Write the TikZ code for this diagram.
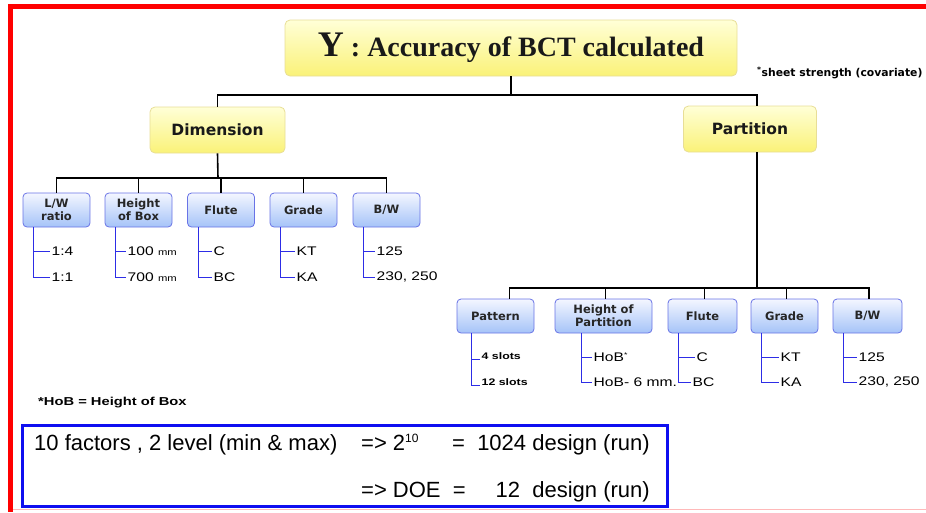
\documentclass[tikz,border=0pt]{standalone}
\usepackage{fontspec}
\setmainfont{Liberation Sans}
\newfontfamily\boxfont{DejaVu Sans}
\newfontfamily\titlefont{Liberation Serif}
\usetikzlibrary{positioning}
\usetikzlibrary{calc, shapes, backgrounds}
\definecolor{framered}{RGB}{255,0,0}
\definecolor{framepink}{RGB}{255,185,185}
\definecolor{ytop}{RGB}{255,255,215}
\definecolor{ybot}{RGB}{250,242,120}
\definecolor{ybord}{RGB}{232,222,150}
\definecolor{btop}{RGB}{244,246,255}
\definecolor{bbot}{RGB}{165,195,248}
\definecolor{bbord}{RGB}{105,115,230}
\definecolor{leafblue}{RGB}{45,45,230}
\definecolor{doeblue}{RGB}{15,15,240}

\begin{document}
\begin{tikzpicture}[x=1pt,y=-1pt]
\tikzstyle{yellow node}=[rectangle,rounded corners=5pt,draw=ybord,line width=0.8pt,top color=ytop,bottom color=ybot,align=center,text=black!90]
\tikzstyle{blue node}=[rectangle,rounded corners=4pt,draw=bbord,line width=0.8pt,top color=btop,bottom color=bbot,align=center,minimum height=34pt,inner sep=1pt,text=black!85,font=\boxfont\bfseries\fontsize{11.5}{13}\selectfont]
\tikzstyle{leaf}=[anchor=west,inner sep=1.5pt,font=\addfontfeature{FakeStretch=1.25}\fontsize{12.5}{13}\selectfont]
\tikzstyle{small leaf}=[anchor=base west,inner sep=1.5pt,font=\bfseries\addfontfeature{FakeStretch=1.3}\fontsize{9.5}{10}\selectfont]
\tikzset{
  tree line/.style = {draw=black,line width=1.6pt},
  leaf line/.style = {draw=leafblue,line width=0.9pt},
  doe text/.style = {anchor=base west,inner sep=0pt,font=\fontsize{22}{22}\selectfont}
}

\useasboundingbox (0,0) rectangle (926,512);

% frame
\fill[framered] (8,4) rectangle (926,9);
\fill[framered] (8,4) rectangle (13,512);
\draw[framepink,line width=1pt] (13,509) -- (926,509);

% top levels
\node[yellow node,minimum width=452pt,minimum height=56pt] (y) at (511,48)
  {\titlefont\bfseries{\fontsize{36}{36}\selectfont Y}{\fontsize{28}{28}\selectfont{} : Accuracy of BCT calculated}};
\node[anchor=west,inner sep=0pt,font=\boxfont\bfseries\fontsize{10.8}{10.8}\selectfont] (cov) at (757,73)
  {\textsuperscript{*}sheet strength (covariate)};
\node[yellow node,minimum width=135pt,minimum height=46pt,font=\boxfont\bfseries\fontsize{15.5}{16}\selectfont] (dim) at (217.5,130) {Dimension};
\node[yellow node,minimum width=133pt,minimum height=46pt,font=\boxfont\bfseries\fontsize{15.5}{16}\selectfont] (par) at (750,129) {Partition};

% dimension factors
\node[blue node,minimum width=67pt] (lw)  at (56.5,210)  {L/W\\ratio};
\node[blue node,minimum width=67pt] (hob) at (138.5,210) {Height\\of Box};
\node[blue node,minimum width=67pt] (fl1) at (221,210)   {Flute};
\node[blue node,minimum width=67pt] (gr1) at (303.5,210) {Grade};
\node[blue node,minimum width=67pt] (bw1) at (386.5,210) {B/W};

% partition factors
\node[blue node,minimum width=77pt] (pat) at (495.5,316) {Pattern};
\node[blue node,minimum width=97pt] (hop) at (603.5,316) {Height of\\Partition};
\node[blue node,minimum width=69pt] (fl2) at (702.5,316) {Flute};
\node[blue node,minimum width=67pt] (gr2) at (784.5,316) {Grade};
\node[blue node,minimum width=69pt] (bw2) at (867.5,316) {B/W};

% levels
\node[leaf] (lwa)  at (50,251)  {1:4};
\node[leaf] (lwb)  at (50,277)  {1:1};
\node[leaf] (hoba) at (126,251) {100 {\fontsize{9}{9}\selectfont mm}};
\node[leaf] (hobb) at (126,277) {700 {\fontsize{9}{9}\selectfont mm}};
\node[leaf] (fl1a) at (212,251) {C};
\node[leaf] (fl1b) at (212,277) {BC};
\node[leaf] (gr1a) at (295,251) {KT};
\node[leaf] (gr1b) at (295,277) {KA};
\node[leaf] (bw1a) at (375,251) {125};
\node[leaf] (bw1b) at (375,277) {230, 250};

\node[small leaf] (pata) at (480,359) {4 slots};
\node[small leaf] (patb) at (480,385) {12 slots};
\node[leaf] (hopa) at (592,357) {HoB\textsuperscript{\fontsize{7}{7}\selectfont *}};
\node[leaf] (hopb) at (592,382) {HoB- 6 mm.};
\node[leaf] (fl2a) at (695,357) {C};
\node[leaf] (fl2b) at (691,382) {BC};
\node[leaf] (gr2a) at (779,357) {KT};
\node[leaf] (gr2b) at (779,382) {KA};
\node[leaf] (bw2a) at (857,357) {125};
\node[leaf] (bw2b) at (857,382) {230, 250};

% notes
\node[anchor=west,inner sep=0pt,font=\bfseries\addfontfeature{FakeStretch=1.28}\fontsize{11.5}{12}\selectfont] (hobnote) at (38,403) {*HoB = Height of Box};
\node[draw=doeblue,line width=3pt,minimum width=645pt,minimum height=81pt,inner sep=0pt] (doe) at (344.5,465.5) {};
\node[doe text] (fac)  at (34,450)  {10 factors , 2 level (min \& max)};
\node[doe text] (pow)  at (361,450) {=> 2\textsuperscript{\fontsize{12}{12}\selectfont 10}};
\node[doe text] (full) at (452,450) {=\ \ 1024 design (run)};
\node[doe text] (doek) at (361,497) {=> DOE\ \ =};
\node[doe text,anchor=base east] (frac) at (650,497) {12\ \ design (run)};

% tree lines
\coordinate (yb) at (511,95);
\coordinate (db) at (218,178);
\coordinate (pb) at (757,288);
\draw[tree line] (y.south) -- (yb);
\draw[tree line] (dim.north) |- (yb) -| ([xshift=7pt]par.north);
\draw[tree line] (dim.south) -- (db);
\draw[tree line] (lw.north) |- (db) -| (bw1.north);
\foreach \n in {hob,fl1,gr1}
  \draw[tree line] (\n.north) -- (\n.north |- db);
\draw[tree line] ([xshift=7pt]par.south) -- (pb);
\draw[tree line] ([xshift=14pt]pat.north) |- (pb) -| ([xshift=1.5pt]bw2.north);
\foreach \n in {hop,fl2,gr2}
  \draw[tree line] ([xshift=2pt]\n.north) -- ([xshift=2pt]\n.north |- pb);

% level lines
\foreach \b/\s/\u/\v in {lw/11/lwa/lwb,hob/11/hoba/hobb,fl1/11/fl1a/fl1b,gr1/11/gr1a/gr1b,bw1/11/bw1a/bw1b,
                         hop/27/hopa/hopb,fl2/11/fl2a/fl2b,gr2/11/gr2a/gr2b,bw2/11/bw2a/bw2b}{
  \draw[leaf line] ([xshift=\s pt]\b.south west) |- (\v.west);
  \draw[leaf line] ([xshift=\s pt]\b.south west |- \u.west) -- (\u.west);
}
\draw[leaf line] ([xshift=15pt]pat.south west) |- (patb.base west);
\draw[leaf line] ([xshift=15pt]pat.south west |- pata.base west) -- (pata.base west);
\end{tikzpicture}
\end{document}
